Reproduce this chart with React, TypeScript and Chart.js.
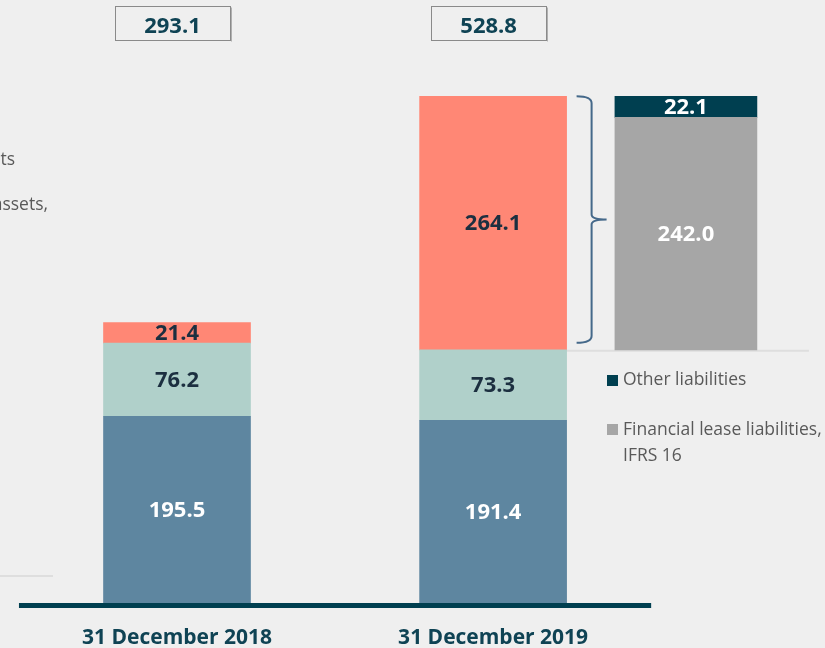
import { useEffect, useRef } from "react";
import { Chart, registerables } from "chart.js";

Chart.register(...registerables);

// ---- Data ----
const categories = ["31 December 2018", "31 December 2019"];
const categoryPositions = [1, 2];
const baseValues = [195.5, 191.4];
const midValues = [76.2, 73.3];
const topValues = [21.4, 264.1];
const totals = [293.1, 528.8];
const breakdownPosition = 2.61;
const leaseValues = [242.0];
const otherValues = [22.1];
const legendLabels = ["Other liabilities", "Financial lease liabilities,", "IFRS 16"];
const leftCutTexts = ["ts", "assets,"];

// ---- Styles ----
const BG = "#efefef";
const C_BASE = "#5e86a0";
const C_MID = "#b0d0ca";
const C_TOP = "#ff8775";
const C_LEASE = "#a6a6a6";
const C_OTHER = "#003f50";
const DARK_TEXT = "#1c2f40";
const TEAL_TEXT = "#0f4354";
const GREY_TEXT = "#595959";
const FONT = "'Open Sans', 'Noto Sans', sans-serif";

const breakdownStart = baseValues[1] + midValues[1];

const datasets: any[] = [
  {
    label: "base",
    data: categoryPositions.map((x, i) => ({ x, y: [0, baseValues[i]] })),
    values: baseValues,
    backgroundColor: C_BASE,
    labelColor: "#ffffff",
    barThickness: 147,
  },
  {
    label: "mid",
    data: categoryPositions.map((x, i) => ({ x, y: [baseValues[i], baseValues[i] + midValues[i]] })),
    values: midValues,
    backgroundColor: C_MID,
    labelColor: DARK_TEXT,
    barThickness: 147,
  },
  {
    label: "top",
    data: categoryPositions.map((x, i) => ({
      x,
      y: [baseValues[i] + midValues[i], baseValues[i] + midValues[i] + topValues[i]],
    })),
    values: topValues,
    backgroundColor: C_TOP,
    labelColor: DARK_TEXT,
    barThickness: 147,
  },
  {
    label: "lease",
    data: leaseValues.map((v) => ({ x: breakdownPosition, y: [breakdownStart, breakdownStart + v] })),
    values: leaseValues,
    backgroundColor: C_LEASE,
    labelColor: "#ffffff",
    barThickness: 142,
  },
  {
    label: "other",
    data: otherValues.map((v, i) => ({
      x: breakdownPosition,
      y: [breakdownStart + leaseValues[i], breakdownStart + leaseValues[i] + v],
    })),
    values: otherValues,
    backgroundColor: C_OTHER,
    labelColor: "#ffffff",
    barThickness: 142,
  },
];

const decorPlugin = {
  id: "decor",
  beforeDraw(chart: any) {
    const ctx = chart.ctx;
    ctx.save();
    ctx.fillStyle = BG;
    ctx.fillRect(0, 0, chart.width, chart.height);
    ctx.restore();
  },
  beforeDatasetsDraw(chart: any) {
    const ctx = chart.ctx;
    const xs = chart.scales.x;
    const ys = chart.scales.y;
    ctx.save();
    ctx.strokeStyle = "#dedede";
    ctx.lineWidth = 2;
    const yb = ys.getPixelForValue(breakdownStart) + 1;
    ctx.beginPath();
    ctx.moveTo(xs.getPixelForValue(2) + 69, yb);
    ctx.lineTo(xs.getPixelForValue(breakdownPosition) + 123, yb);
    ctx.stroke();
    ctx.beginPath();
    ctx.moveTo(0, 576);
    ctx.lineTo(53, 576);
    ctx.stroke();
    ctx.restore();
  },
  afterDatasetsDraw(chart: any) {
    const ctx = chart.ctx;
    const xs = chart.scales.x;
    const ys = chart.scales.y;
    ctx.save();

    // value labels
    ctx.font = `bold 22px ${FONT}`;
    ctx.textAlign = "center";
    ctx.textBaseline = "middle";
    chart.data.datasets.forEach((ds: any, di: number) => {
      const meta = chart.getDatasetMeta(di);
      meta.data.forEach((el: any, i: number) => {
        const cy = (el.y + el.base) / 2 + 1;
        ctx.fillStyle = ds.labelColor;
        ctx.fillText(ds.values[i].toFixed(1), el.x, cy);
      });
    });

    // axis line
    const y0 = ys.getPixelForValue(0);
    ctx.fillStyle = C_OTHER;
    const ax0 = xs.getPixelForValue(0.5);
    const ax1 = xs.getPixelForValue(2.5);
    ctx.fillRect(ax0, y0 - 1, ax1 - ax0, 5);

    // category labels
    ctx.font = `bold 21px ${FONT}`;
    ctx.fillStyle = TEAL_TEXT;
    ctx.textBaseline = "alphabetic";
    categories.forEach((c, i) => {
      ctx.fillText(c, xs.getPixelForValue(categoryPositions[i]), 644);
    });

    // total boxes
    ctx.font = `bold 22px ${FONT}`;
    totals.forEach((t, i) => {
      const cx = xs.getPixelForValue(categoryPositions[i]) - 4.5;
      const w = 115;
      const h = 34;
      const top = 6.5;
      ctx.strokeStyle = "#8a8a8a";
      ctx.lineWidth = 1;
      ctx.strokeRect(Math.round(cx - w / 2) + 0.5, top, w, h);
      ctx.strokeStyle = "#b0b0b0";
      ctx.beginPath();
      ctx.moveTo(Math.round(cx + w / 2) + 1.5, top + 1);
      ctx.lineTo(Math.round(cx + w / 2) + 1.5, top + h + 1);
      ctx.stroke();
      ctx.fillStyle = TEAL_TEXT;
      ctx.textAlign = "center";
      ctx.fillText(t.toFixed(1), cx, 32.5);
    });

    // bracket next to 2019 top segment
    const topMeta = chart.getDatasetMeta(2);
    const el = topMeta.data[1];
    if (el) {
      const right = el.x + el.width / 2;
      const bx0 = right + 10;
      const bx1 = right + 25;
      const bx2 = right + 40;
      const t = el.y;
      const b = el.base - 7;
      const mid = t + (b - t) * 0.5;
      ctx.strokeStyle = "#45698a";
      ctx.lineWidth = 2;
      ctx.beginPath();
      ctx.moveTo(bx0, t);
      ctx.quadraticCurveTo(bx1, t, bx1, t + 7);
      ctx.lineTo(bx1, mid - 5);
      ctx.quadraticCurveTo(bx1, mid, bx2, mid);
      ctx.moveTo(bx2, mid);
      ctx.quadraticCurveTo(bx1, mid, bx1, mid + 5);
      ctx.lineTo(bx1, b - 7);
      ctx.quadraticCurveTo(bx1, b, bx0, b);
      ctx.stroke();
    }

    // right legend
    ctx.textAlign = "left";
    ctx.textBaseline = "alphabetic";
    ctx.font = `17.5px ${FONT}`;
    ctx.fillStyle = C_OTHER;
    ctx.fillRect(607, 375, 11, 11);
    ctx.fillStyle = C_LEASE;
    ctx.fillRect(607, 424, 11, 11);
    ctx.fillStyle = GREY_TEXT;
    ctx.fillText(legendLabels[0], 623, 385);
    ctx.fillText(legendLabels[1], 623, 435);
    ctx.fillText(legendLabels[2], 623, 460.5);

    // cut-off text at the left edge
    ctx.textAlign = "right";
    ctx.fillText(leftCutTexts[0], 15, 165);
    ctx.fillText(leftCutTexts[1], 48, 210);

    ctx.restore();
  },
};

export default function App() {
  const ref = useRef<HTMLCanvasElement | null>(null);

  useEffect(() => {
    document.body.style.margin = "0";
    document.body.style.background = BG;
    if (!ref.current) return;
    const chart = new Chart(ref.current, {
      type: "bar",
      data: { datasets },
      options: {
        animation: false,
        responsive: false,
        maintainAspectRatio: false,
        layout: { padding: { left: 0, right: 0, top: 0, bottom: 44 } },
        plugins: {
          legend: { display: false },
          tooltip: { enabled: false },
        },
        scales: {
          x: { type: "linear", min: 0.44, max: 3.05, offset: false, stacked: true, display: false },
          y: { type: "linear", min: 0, max: 629, stacked: false, display: false },
        },
      } as any,
      plugins: [decorPlugin],
    });
    return () => chart.destroy();
  }, []);

  return (
    <div style={{ width: 825, height: 648 }}>
      <canvas ref={ref} width={825} height={648} style={{ display: "block" }} />
    </div>
  );
}
